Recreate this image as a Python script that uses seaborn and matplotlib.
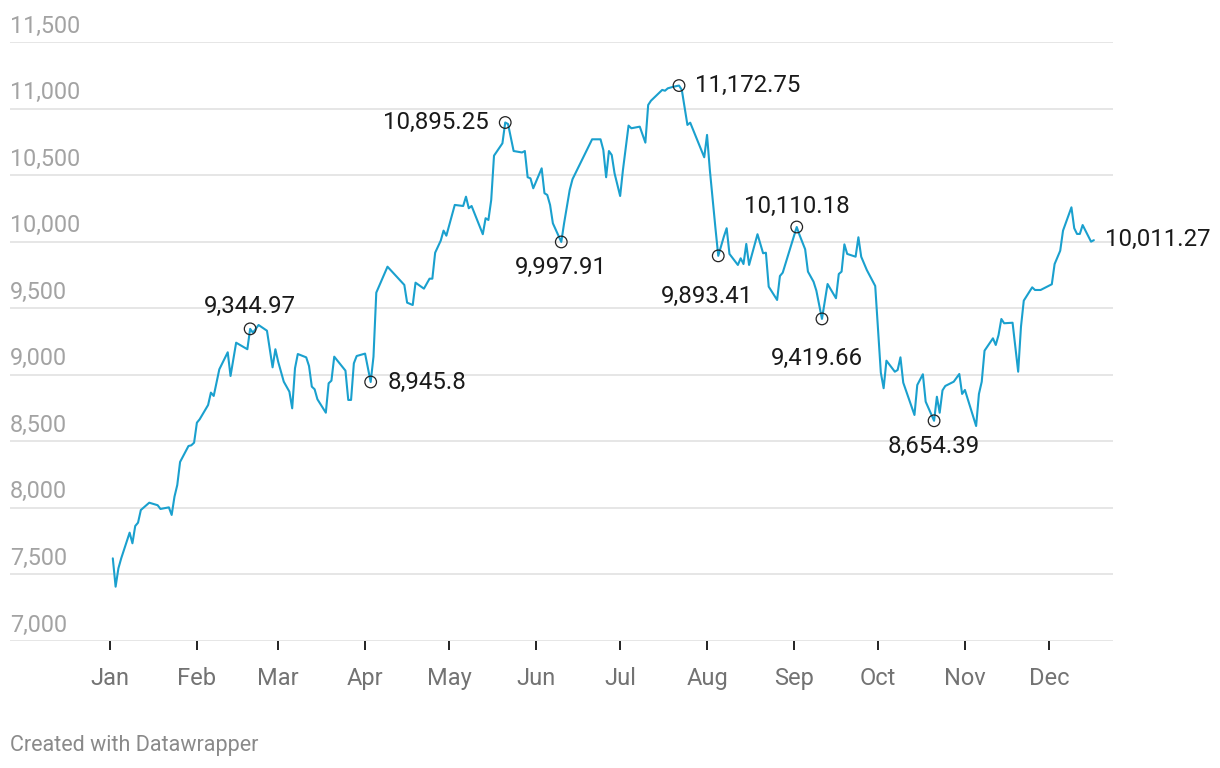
import matplotlib
matplotlib.use("Agg")
import matplotlib.pyplot as plt
import matplotlib.transforms as mtransforms
import seaborn as sns
import pandas as pd

# ---- data (day offset from Jan 1, index value) ----
day_offset = [1, 2, 3, 4, 7, 8, 9, 10, 11, 14, 17, 18, 21, 22, 23, 24, 25, 28, 29, 30,
              31, 32, 35, 36, 37, 39, 42, 43, 45, 49, 50, 51, 53, 56, 58, 59, 60, 62, 64, 65,
              66, 67, 70, 71, 72, 73, 74, 77, 78, 79, 80, 84, 85, 86, 87, 88, 91, 93, 94, 95,
              99, 105, 106, 108, 109, 112, 114, 115, 116, 118, 119, 120, 123, 126, 127, 128, 129, 133, 134, 135,
              136, 137, 140, 141, 142, 144, 147, 148, 149, 150, 151, 154, 155, 156, 157, 158, 161, 162, 164, 165,
              172, 175, 176, 177, 178, 179, 180, 182, 183, 185, 186, 189, 191, 192, 193, 197, 198, 199, 201, 203,
              204, 206, 207, 212, 213, 214, 216, 217, 219, 220, 221, 224, 225, 226, 227, 228, 231, 233, 234, 235,
              238, 239, 240, 245, 246, 248, 249, 251, 252, 254, 256, 259, 260, 261, 262, 263, 266, 267, 268, 270,
              273, 275, 276, 277, 280, 281, 282, 283, 287, 288, 290, 291, 294, 295, 296, 297, 298, 301, 303, 304,
              305, 309, 310, 311, 312, 315, 316, 317, 318, 319, 322, 324, 325, 326, 329, 330, 332, 336, 337, 339,
              340, 343, 344, 345, 346, 347, 350, 351]
index_value = [7621, 7408, 7546, 7621, 7814, 7734, 7864, 7889, 7984, 8039, 8020, 7992, 8004, 7947, 8084, 8172, 8345, 8465, 8470, 8490,
               8640, 8666, 8773, 8866, 8841, 9041, 9169, 8991, 9241, 9192, 9344.97, 9316, 9374, 9331, 9056, 9192, 9098, 8948, 8873, 8748,
               9049, 9156, 9131, 9066, 8911, 8891, 8816, 8715, 8936, 8956, 9136, 9031, 8811, 8811, 9086, 9141, 9159, 8945.8, 9136, 9617,
               9812, 9675, 9542, 9524, 9692, 9647, 9722, 9722, 9917, 10008, 10083, 10045, 10276, 10268, 10338, 10251, 10268, 10056, 10176, 10163,
               10313, 10646, 10739, 10895.25, 10884, 10681, 10670, 10681, 10484, 10476, 10401, 10551, 10364, 10351, 10276, 10138, 9997.91, 10138, 10388, 10469,
               10769, 10769, 10689, 10484, 10681, 10651, 10514, 10343, 10539, 10872, 10852, 10864, 10744, 11027, 11059, 11140, 11134, 11152, 11164, 11172.75,
               11140, 10877, 10894, 10634, 10802, 10539, 10101, 9893.41, 10038, 10101, 9908, 9825, 9875, 9832, 9983, 9825, 10056, 9913, 9917, 9662,
               9562, 9742, 9767, 10110.18, 10050, 9943, 9775, 9699, 9632, 9419.66, 9682, 9575, 9757, 9775, 9980, 9908, 9887, 10033, 9887, 9787,
               9667, 9016, 8899, 9106, 9023, 9036, 9131, 8941, 8698, 8923, 9004, 8798, 8654.39, 8835, 8715, 8883, 8916, 8948, 9006, 8856,
               8886, 8615, 8856, 8948, 9181, 9274, 9224, 9299, 9419, 9387, 9391, 9023, 9361, 9557, 9657, 9637, 9637, 9680, 9832, 9932,
               10083, 10258, 10101, 10058, 10058, 10125, 10000, 10011.27]

month_labels = ["Jan", "Feb", "Mar", "Apr", "May", "Jun", "Jul", "Aug", "Sep", "Oct", "Nov", "Dec"]
y_ticks = [7000, 7500, 8000, 8500, 9000, 9500, 10000, 10500, 11000, 11500]

# annotated points (the last one is labelled without a circle)
ann_days = [50, 93, 141, 161, 203, 217, 245, 254, 294, 351]
ann_values = [9344.97, 8945.8, 10895.25, 9997.91, 11172.75, 9893.41, 10110.18, 9419.66, 8654.39, 10011.27]

start = pd.Timestamp("2020-01-01")
dates = start + pd.to_timedelta(day_offset, unit="D")
df = pd.DataFrame({"date": dates, "value": index_value})

sns.set_theme(style="white")
plt.rcParams["font.family"] = ["Roboto", "DejaVu Sans"]

W, H = 1220, 768
fig = plt.figure(figsize=(W / 100, H / 100), dpi=100)
left_px, right_px, top_px, bot_px = 10, 1113, 42, 641
ax = fig.add_axes([left_px / W, 1 - bot_px / H, (right_px - left_px) / W, (bot_px - top_px) / H])

LINE = "#1aa0ce"
sns.lineplot(data=df, x="date", y="value", ax=ax, color=LINE, linewidth=1.5, sort=False)

ax.set_ylim(7000, 11500)
px_per_day = 2.803
ax.set_xlim(start - pd.Timedelta(days=(110 - left_px) / px_per_day),
            start + pd.Timedelta(days=(right_px - 110) / px_per_day))

for s in ax.spines.values():
    s.set_visible(False)
ax.set_xlabel("")
ax.set_ylabel("")

ax.set_yticks(y_ticks)
ax.yaxis.grid(True, color="#e2e2e2", linewidth=1.2)
ax.set_axisbelow(True)
ax.tick_params(axis="y", left=False, labelleft=False)

# y labels drawn above the gridlines
trans = mtransforms.blended_transform_factory(ax.transAxes, ax.transData)
for v in y_ticks:
    ax.annotate(f"{v:,}", xy=(0, v), xycoords=trans, xytext=(0, 9.5 * 0.72),
                textcoords="offset points", ha="left", va="baseline",
                fontsize=16.8, color="#a3a3a3")

month_starts = [start + pd.DateOffset(months=i) for i in range(12)]
ax.set_xticks(month_starts)
ax.set_xticklabels(month_labels)
ax.tick_params(axis="x", bottom=True, length=6.5, width=1.4, color="#222222",
               labelsize=17, labelcolor="#737373", pad=12.5)

# annotation markers and labels
ann_dates = start + pd.to_timedelta(ann_days, unit="D")
ax.scatter(ann_dates[:-1], ann_values[:-1], s=70, facecolors="none", edgecolors="#222222",
           linewidths=0.9, zorder=5)
offsets = [(0, 22, "center"), (17, 0, "left"), (-16, 0, "right"), (0, -26, "center"),
           (16, 0, "left"), (-11, -41, "center"), (0, 21, "center"), (-5, -40, "center"),
           (0, -26, "center"), (11, 1, "left")]
for d, v, (dx, dy, ha) in zip(ann_dates, ann_values, offsets):
    ax.annotate(f"{v:,}", xy=(d, v), xytext=(dx * 0.72, dy * 0.72),
                textcoords="offset points", ha=ha, va="center",
                fontsize=17.3, color="#1a1a1a", zorder=6)

fig.text(10 / W, 1 - 745 / H, "Created with Datawrapper", ha="left", va="center",
         fontsize=15.5, color="#8a8a8a")

fig.savefig("out.png", dpi=100)
